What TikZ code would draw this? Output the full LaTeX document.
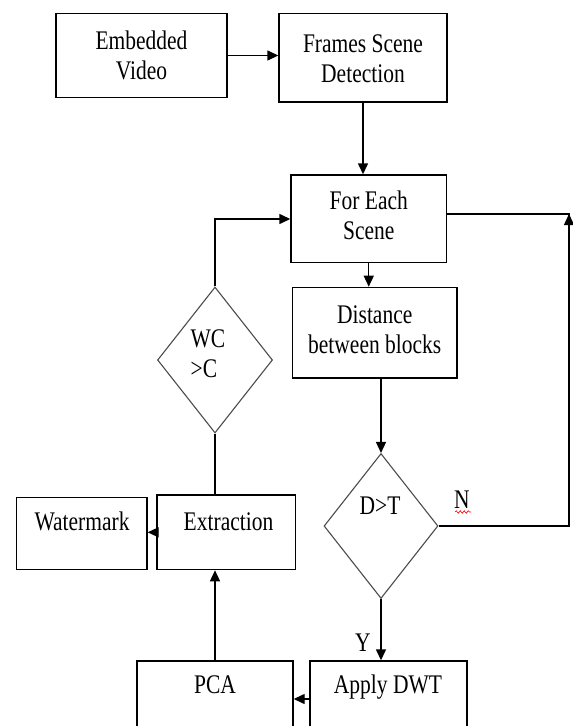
\documentclass[tikz,border=0pt]{standalone}
\usepackage{fontspec}
\setmainfont{Liberation Serif}
\usepackage{graphicx}
\usetikzlibrary{shapes.geometric,arrows.meta,decorations.pathmorphing}
\newcommand{\vsc}[1]{\scalebox{1}[1.25]{\begin{tabular}{@{}c@{}}#1\end{tabular}}}
\newcommand{\vsl}[1]{\scalebox{1}[1.25]{\begin{tabular}{@{}l@{}}#1\end{tabular}}}
\tikzset{
  box/.style={draw=black, line width=1.4pt, rectangle, inner sep=0pt, font=\fontsize{21.5}{24}\selectfont},
  dia/.style={draw=black!70, line width=1.1pt, diamond, inner sep=0pt},
  txt/.style={inner sep=0pt, font=\fontsize{21.5}{24}\selectfont},
  ln/.style={line width=1.4pt},
  arr/.style={line width=1.4pt, -{Triangle[length=11pt,width=10pt]}},
}
\begin{document}
\begin{tikzpicture}[x=1pt,y=-1pt]
\path[use as bounding box, clip] (0,0) rectangle (573,726);
\fill[white] (0,0) rectangle (573,726);
% boxes
\node[box, minimum width=171pt, minimum height=84pt] (ev) at (141.5,55.5) {};
\node[box, minimum width=168pt, minimum height=88.5pt] (fsd) at (363,57.75) {};
\node[box, minimum width=155.5pt, minimum height=87.5pt] (fes) at (368.75,218.75) {\vsc{For Each\\Scene}};
\node[box, minimum width=164.5pt, minimum height=90.6pt] (dbb) at (374.75,332.7) {\vsc{Distance\\between blocks}};
\node[box, minimum width=130.5pt, minimum height=72pt] (wm) at (81.75,533.5) {};
\node[box, minimum width=138.5pt, minimum height=74.6pt] (ext) at (226.25,532.3) {};
\node[box, minimum width=156pt, minimum height=84pt] (pca) at (215,703) {};
\node[box, minimum width=157pt, minimum height=84pt] (dwt) at (388.5,703) {};
\node[txt] (evt) at (141.5,58) {\vsc{Embedded\\Video}};
\node[txt] (fsdt) at (363,61) {\vsc{Frames Scene\\Detection}};
\node[txt] (wmt) at (82,524) {\vsc{Watermark}};
\node[txt] (extt) at (228.5,524.6) {\vsc{Extraction}};
\node[txt] (pcat) at (215,687) {\vsc{PCA}};
\node[txt] (dwtt) at (388,687) {\vsc{Apply DWT}};
% diamonds
\node[dia, minimum width=114pt, minimum height=145pt] (dt) at (381,526) {};
\node[dia, minimum width=115pt, minimum height=146pt] (wc) at (215,360) {};
\node[txt] (dtt) at (380,508) {\vsc{D>T}};
\node[txt] (wct) at (208,356) {\vsl{WC\\>C}};
% labels
\node[txt] (nlab) at (462,502) {\vsc{N}};
\node[txt] (ylab) at (363,645) {\vsc{Y}};
\coordinate (sq1) at (455,512);
\coordinate (sq2) at (471,512);
\draw[red, line width=0.6pt, decorate, decoration={snake, amplitude=1.3pt, segment length=4pt}] (sq1) -- (sq2);
% connectors
\draw[arr] (ev.east) -- (ev.east -| fsd.west);
\draw[arr] (fsd.south) -- (fsd.south |- fes.north);
\draw[arr] (fes.south) -- (fes.south |- dbb.north);
\draw[arr] (dt.north |- dbb.south) -- (dt.north);
\draw[arr] (dt.south) -- (dt.south |- dwt.north);
\coordinate (rb) at (569,526);
\coordinate (rt) at (569,214);
\draw[ln] (dt.east) -- (rb) -- (rt) -- (rt -| fes.east);
\draw[arr] (rb) -- (rt);
\coordinate (dwl) at (310,699);
\draw[arr] (dwl) -- (dwl -| pca.east);
\draw[arr] (pca.north) -- (pca.north |- ext.south);
\draw[arr] (ext.west) -- (ext.west -| wm.east);
\coordinate (lt) at (215,219);
\draw[arr] (wc.north) -- (lt) -- (lt -| fes.west);
\draw[ln] (wc.south) -- (wc.south |- ext.north);
\end{tikzpicture}
\end{document}
